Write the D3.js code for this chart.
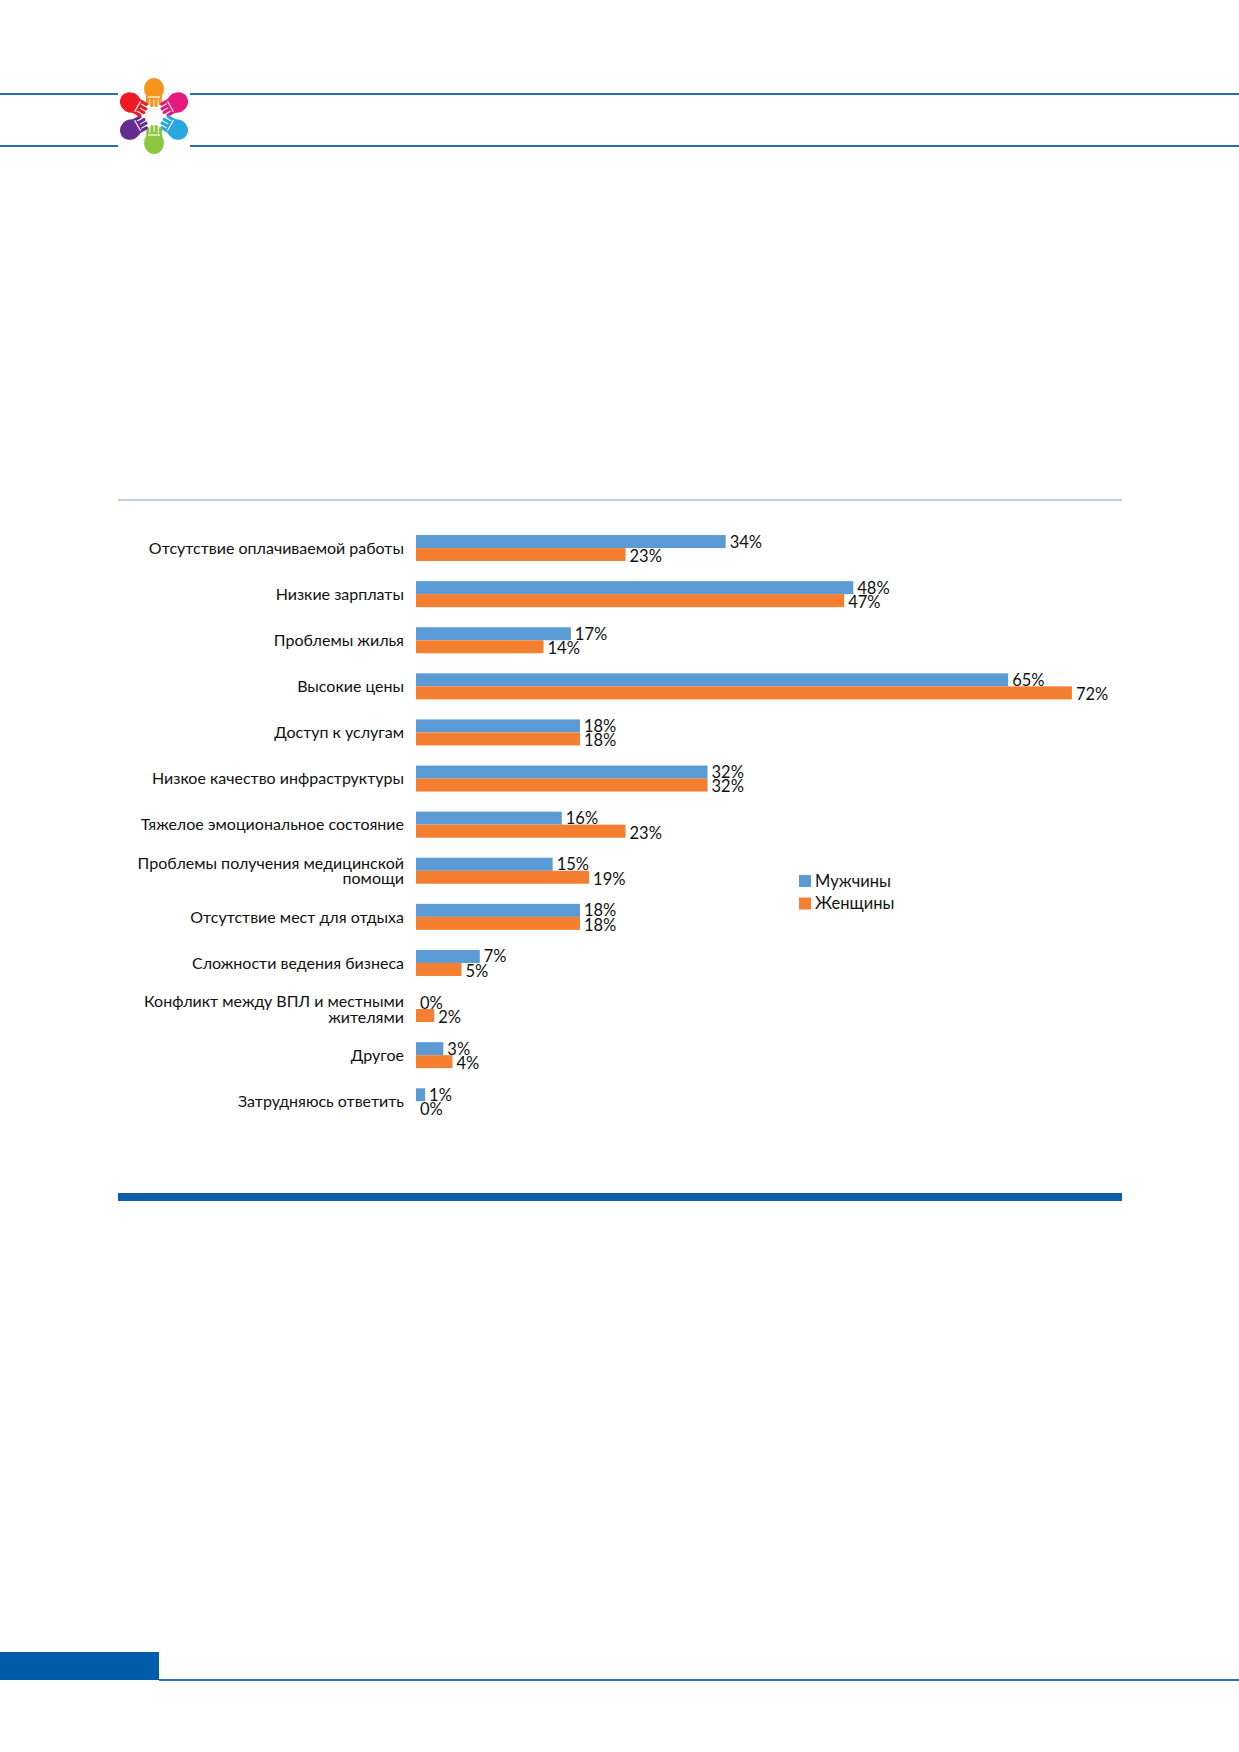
<!DOCTYPE html>
<html>
<head>
<meta charset="utf-8">
<script src="https://cdn.jsdelivr.net/npm/d3@7"></script>
<style>
  body { margin: 0; background: #fff; }
  text { font-family: Lato, "Open Sans", sans-serif; fill: #111; }
</style>
</head>
<body>
<div id="vis"></div>
<script>
// Categories (one per row, top to bottom)
const categories = [
  "Отсутствие оплачиваемой работы",
  "Низкие зарплаты",
  "Проблемы жилья",
  "Высокие цены",
  "Доступ к услугам",
  "Низкое качество инфраструктуры",
  "Тяжелое эмоциональное состояние",
  "Проблемы получения медицинской|помощи",
  "Отсутствие мест для отдыха",
  "Сложности ведения бизнеса",
  "Конфликт между ВПЛ и местными|жителями",
  "Другое",
  "Затрудняюсь ответить"
]

// Series values, in percent
const men   = [34, 48, 17, 65, 18, 32, 16, 15, 18, 7, 0, 3, 1]
const women = [23, 47, 14, 72, 18, 32, 23, 19, 18, 5, 2, 4, 0]

const seriesNames = ["Мужчины", "Женщины"]
const seriesColors = ["#5b9bd5", "#f47f30"]

// Logo hand colours, clockwise from the top
const handColors = ["#f7941d", "#e8197c", "#29a8e0", "#8cc63f", "#662d91", "#ed1c24"]

const W = 1239, H = 1752

const svg = d3.select('#vis')
  .append('svg')
  .attr('width', W)
  .attr('height', H)

// ---- page decoration ----
const deco = svg.append('g').attr('class', 'page')

// header double lines, broken by the logo
;[94, 146].forEach(y => {
  deco.append('line').attr('x1', 0).attr('x2', 118).attr('y1', y).attr('y2', y)
    .attr('stroke', '#2f6db3').attr('stroke-width', 2.2)
  deco.append('line').attr('x1', 190).attr('x2', W).attr('y1', y).attr('y2', y)
    .attr('stroke', '#2f6db3').attr('stroke-width', 2.2)
})

// logo: six hands round a centre
const logo = deco.append('g').attr('transform', 'translate(154,116)')
handColors.forEach((c, i) => {
  const hand = logo.append('g').attr('transform', `rotate(${i * 60})`)
  hand.append('ellipse')
    .attr('cx', 0).attr('cy', -27).attr('rx', 10).attr('ry', 11)
    .attr('fill', c)
  // fingers pointing to the middle
  d3.range(4).forEach(k => {
    hand.append('rect')
      .attr('x', -8 + k * 4.2).attr('y', -22)
      .attr('width', 3.2).attr('height', 14 - Math.abs(k - 1.5) * 2)
      .attr('rx', 1.5)
      .attr('fill', c)
  })
  hand.append('line')
    .attr('x1', -6).attr('x2', 6).attr('y1', -19).attr('y2', -19)
    .attr('stroke', '#fff').attr('stroke-width', 1.2)
})

// thin light line above the chart
deco.append('line').attr('x1', 118).attr('x2', 1122).attr('y1', 500).attr('y2', 500)
  .attr('stroke', '#bcd0e9').attr('stroke-width', 2)

// thick line under the chart
deco.append('rect').attr('x', 118).attr('y', 1193).attr('width', 1004).attr('height', 8)
  .attr('fill', '#0c5fad')

// footer block + line
deco.append('rect').attr('x', 0).attr('y', 1652).attr('width', 159).attr('height', 28)
  .attr('fill', '#005bab')
deco.append('line').attr('x1', 159).attr('x2', W).attr('y1', 1680).attr('y2', 1680)
  .attr('stroke', '#2f6db3').attr('stroke-width', 2)

// ---- chart ----
const chart = svg.append('g').attr('class', 'chart')

// value -> pixel
const xScale = d3.scaleLinear()
  .domain([0, 80])
  .range([416, 416 + 80 * 9.11])

// category -> row
const yScale = d3.scaleBand()
  .domain(categories)
  .range([525, 525 + categories.length * 46.1])
  .paddingInner(0.436)
  .paddingOuter(0.218)

// series -> bar inside the row
const ySub = d3.scaleBand()
  .domain(seriesNames)
  .range([0, yScale.bandwidth()])

const rows = categories.map((c, i) => ({ cat: c, vals: [men[i], women[i]] }))

const rowG = chart.selectAll('.row')
  .data(rows)
  .enter()
  .append('g')
  .attr('class', 'row')
  .attr('transform', d => `translate(0,${yScale(d.cat)})`)

// category labels (right aligned, may wrap)
rowG.append('text')
  .attr('text-anchor', 'end')
  .attr('font-size', 16)
  .each(function(d) {
    const lines = d.cat.split('|')
    const mid = yScale.bandwidth() / 2
    const off = (lines.length - 1) * 15.5 / 2
    lines.forEach((ln, j) => {
      d3.select(this).append('tspan')
        .attr('x', 404)
        .attr('y', mid - off + j * 15.5)
        .attr('dy', '0.36em')
        .text(ln)
    })
  })

// bars
rowG.selectAll('rect')
  .data(d => d.vals.map((v, j) => ({ v, s: seriesNames[j], c: seriesColors[j] })))
  .enter()
  .append('rect')
  .attr('x', xScale(0))
  .attr('y', d => ySub(d.s))
  .attr('width', d => xScale(d.v) - xScale(0))
  .attr('height', ySub.bandwidth())
  .attr('fill', d => d.c)

// value labels
rowG.selectAll('.val')
  .data(d => d.vals.map((v, j) => ({ v, s: seriesNames[j], j })))
  .enter()
  .append('text')
  .attr('class', 'val')
  .attr('x', d => xScale(d.v) + 4)
  .attr('y', d => ySub(d.s) + ySub.bandwidth() / 2 + (d.j === 1 ? 1.5 : 0))
  .attr('dy', '0.36em')
  .attr('font-size', 16.5)
  .text(d => d.v + '%')

// legend
const legend = chart.append('g').attr('transform', 'translate(799,875)')
seriesNames.forEach((name, i) => {
  legend.append('rect')
    .attr('x', 0).attr('y', i * 22.5)
    .attr('width', 12).attr('height', 12)
    .attr('fill', seriesColors[i])
  legend.append('text')
    .attr('x', 16).attr('y', i * 22.5 + 6)
    .attr('dy', '0.36em')
    .attr('font-size', 16.5)
    .text(name)
})
</script>
</body>
</html>
